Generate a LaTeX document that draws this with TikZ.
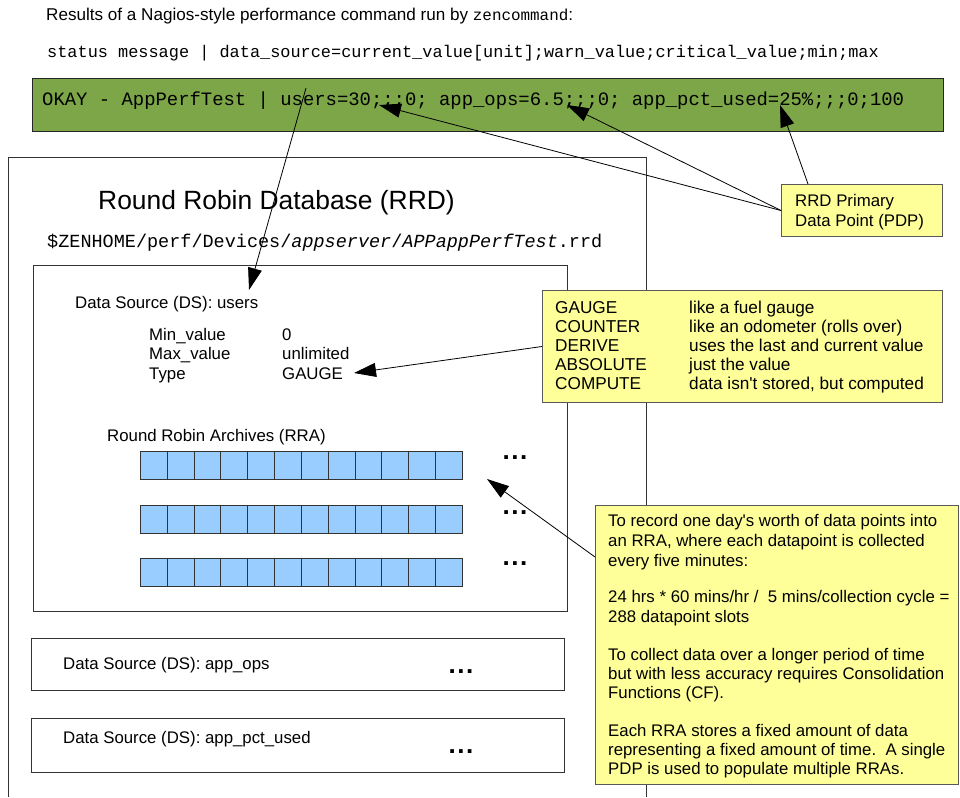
\documentclass[tikz,border=0pt]{standalone}
\usepackage{fontspec}
\setmainfont{Liberation Sans}[Ligatures=TeXOff]
\setsansfont{Liberation Sans}[Ligatures=TeXOff]
\setmonofont{Liberation Mono}
\usetikzlibrary{arrows.meta}
\definecolor{bargreen}{RGB}{124,166,72}
\definecolor{noteyellow}{RGB}{255,255,153}
\definecolor{cellblue}{RGB}{153,204,255}
\begin{document}
\begin{tikzpicture}[x=1pt,y=-1pt]
\tikzset{
 txt/.style={anchor=base west, inner sep=0pt, font=\fontsize{16.8}{19}\selectfont},
 monotxt/.style={anchor=base west, inner sep=0pt},
 frame/.style={draw=black!80, line width=0.9pt, inner sep=0pt, anchor=north west},
 notebox/.style={draw=black!65, fill=noteyellow, line width=1pt, inner sep=0pt, anchor=north west},
 cellbox/.style={draw=black!80, fill=cellblue, line width=0.8pt, inner sep=0pt, anchor=north west, minimum width=26.83pt, minimum height=28pt},
 arr/.style={line width=0.8pt, -{Triangle[length=22pt,width=14pt]}},
 dotstxt/.style={anchor=center, inner sep=0pt, font=\bfseries\fontsize{26}{26}\selectfont}
}
\useasboundingbox (0,0) rectangle (960,797);
\fill[white] (0,0) rectangle (960,797);

% header texts
\node[txt, font=\fontsize{17.1}{19}\selectfont] (title) at (46,21) {Results of a Nagios-style performance command run by {\ttfamily\fontsize{15.9}{18}\selectfont zencommand}:};
\node[monotxt, font=\ttfamily\fontsize{16.9}{19}\selectfont] (fmt) at (47,58) {status message | data\_source=current\_value[unit];warn\_value;critical\_value;min;max};

% green bar
\node[frame, fill=bargreen, draw=black!85, line width=1pt, minimum width=911pt, minimum height=53pt] (bar) at (32,78) {};
\node[monotxt, font=\ttfamily\fontsize{18.9}{20}\selectfont] (bartext) at (42,106) {OKAY - AppPerfTest | users=30;;;0; app\_ops=6.5;;;0; app\_pct\_used=25\%;;;0;100};

% RRD outer box (bottom runs off the picture)
\draw[draw=black!80, line width=0.9pt] (8,797) -- (8,157) -- (646,157) -- (646,797);
\node[txt, font=\fontsize{26.4}{28}\selectfont] (rrdtitle) at (98,209) {Round Robin Database (RRD)};
\node[monotxt, font=\ttfamily\fontsize{18.5}{20}\selectfont] (rrdpath) at (47,247) {\$ZENHOME/perf/Devices/\textit{appserver}/\textit{APPappPerfTest}.rrd};

% DS users
\node[frame, minimum width=534pt, minimum height=346pt] (dsusers) at (33,265) {};
\node[txt] (dslabel) at (75,308) {Data Source (DS): users};
\node[txt] (minl) at (149,340) {Min\_value};
\node[txt] (maxl) at (149,359.5) {Max\_value};
\node[txt] (typel) at (149,379) {Type};
\node[txt] (minv) at (282,340) {0};
\node[txt] (maxv) at (282,359.5) {unlimited};
\node[txt] (typev) at (282,379) {GAUGE};
\node[txt] (rralabel) at (107,441) {Round Robin Archives (RRA)};
\foreach \r/\top in {1/451,2/505,3/558}{
  \foreach \c in {0,...,11}{
    \node[cellbox] (cell\r-\c) at ({140+\c*26.83},\top) {};
  }
}
\node[dotstxt] (dots1) at (515,458) {.\kern1.5pt.\kern1.5pt.};
\node[dotstxt] (dots2) at (515,513) {.\kern1.5pt.\kern1.5pt.};
\node[dotstxt] (dots3) at (515,564) {.\kern1.5pt.\kern1.5pt.};

% DS app_ops and app_pct_used
\node[frame, minimum width=533pt, minimum height=52pt] (dsops) at (31,638) {};
\node[txt] (opslabel) at (63,669) {Data Source (DS): app\_ops};
\node[dotstxt] (dots4) at (461,672) {.\kern1.5pt.\kern1.5pt.};
\node[dotstxt] (dots5) at (461,752) {.\kern1.5pt.\kern1.5pt.};
\node[frame, minimum width=533pt, minimum height=54pt] (dspct) at (31,718) {};
\node[txt] (pctlabel) at (63,743) {Data Source (DS): app\_pct\_used};

% PDP note
\node[notebox, minimum width=161pt, minimum height=52pt] (pdp) at (781,184) {};
\node[txt] (pdp1) at (795,206.5) {RRD Primary};
\node[txt] (pdp2) at (795,226) {Data Point (PDP)};

% type note
\node[notebox, minimum width=400pt, minimum height=112pt] (types) at (542,290) {};
\foreach \yy/\k/\d [count=\i] in {313/GAUGE/like a fuel gauge, 332/COUNTER/like an odometer (rolls over), 351/DERIVE/uses the last and current value, 370/ABSOLUTE/just the value, 389/COMPUTE/{data isn't stored, but computed}}{
  \node[txt, font=\fontsize{17.2}{19}\selectfont] (tk\i) at (555,\yy) {\k};
  \node[txt, font=\fontsize{17.2}{19}\selectfont] (td\i) at (689,\yy) {\d};
}

% RRA note
\node[notebox, minimum width=363pt, minimum height=279pt] (rranote) at (595,505) {};
\foreach \yy/\tx [count=\i] in {
 526.5/{To record one day's worth of data points into},
 546/{an RRA, where each datapoint is collected},
 566/{every five minutes:},
 602.5/{24 hrs * 60 mins/hr /\ \ 5 mins/collection cycle =},
 622.5/{288 datapoint slots},
 660/{To collect data over a longer period of time},
 679.5/{but with less accuracy requires Consolidation},
 698.5/{Functions (CF).},
 736/{Each RRA stores a fixed amount of data},
 755.5/{representing a fixed amount of time.\ \ A single},
 774.5/{PDP is used to populate multiple RRAs.}}{
  \node[txt] (nl\i) at (608,\yy) {\tx};
}

% arrow end points
\coordinate (usersfrom) at (306,88);
\coordinate (userstip) at (249,290);
\coordinate (tip1) at (379,105);
\coordinate (tip2) at (567,105);
\coordinate (tip3) at (780,105);
\coordinate (gaugetip) at (354,373);
\coordinate (rratip) at (487,479);

\draw[arr] (usersfrom) -- (userstip);
\draw[arr] (pdp.west) -- (tip1);
\draw[arr] (pdp.west) -- (tip2);
\draw[arr] ([xshift=27pt]pdp.north west) -- (tip3);
\draw[arr] (types.west) -- (gaugetip);
\draw[arr] ([yshift=-52pt]rranote.north west) -- (rratip);
\end{tikzpicture}
\end{document}
